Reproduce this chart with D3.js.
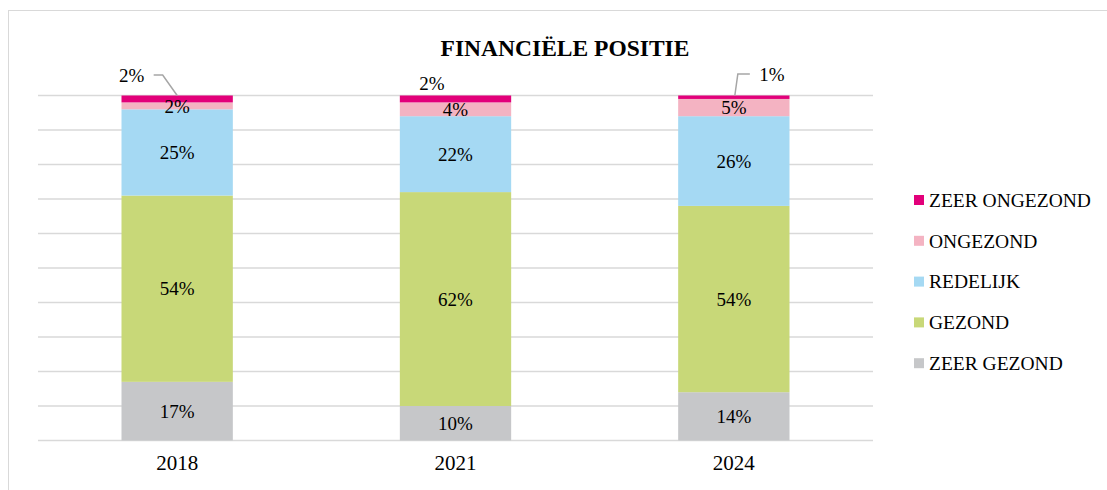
<!DOCTYPE html>
<html>
<head>
<meta charset="utf-8">
<script src="https://cdnjs.cloudflare.com/ajax/libs/d3/7.8.5/d3.min.js"></script>
<style>
  body { margin: 0; background: #fff; }
  svg { display: block; font-family: "Liberation Serif", "DejaVu Serif", serif; }
</style>
</head>
<body>
<svg id="chart" width="1107" height="490"></svg>
<script>
// data
var jaren = ['2018', '2021', '2024'];
var reeksen = ['ZEER GEZOND', 'GEZOND', 'REDELIJK', 'ONGEZOND', 'ZEER ONGEZOND'];
var zeerGezond = [17, 10, 14];
var gezond = [54, 62, 54];
var redelijk = [25, 22, 26];
var ongezond = [2, 4, 5];
var zeerOngezond = [2, 2, 1];
var yTicks = [0, 10, 20, 30, 40, 50, 60, 70, 80, 90, 100];
var kleuren = ['#c6c7c9', '#c8d878', '#a5d9f3', '#f4b3c2', '#e2007a'];

var waarden = [zeerGezond, gezond, redelijk, ongezond, zeerOngezond];

var rows = jaren.map(function(j, i) {
  var r = { jaar: j };
  reeksen.forEach(function(s, k) { r[s] = waarden[k][i]; });
  return r;
});

var svg = d3.select('#chart');

// chart border
svg.append('rect')
  .attr('x', 8.5).attr('y', 10.5)
  .attr('width', 1110).attr('height', 490)
  .attr('fill', 'none')
  .attr('stroke', '#d9d9d9');

var plotL = 38, plotR = 873, plotT = 95.5, plotB = 440.5;

var x = d3.scaleBand()
  .domain(jaren)
  .range([plotL, plotR])
  .paddingInner(0.6)
  .paddingOuter(0.3);

var y = d3.scaleLinear()
  .domain([0, 100])
  .range([plotB, plotT]);

var color = d3.scaleOrdinal().domain(reeksen).range(kleuren);

// gridlines
svg.append('g')
  .selectAll('line')
  .data(yTicks)
  .enter().append('line')
    .attr('x1', plotL).attr('x2', plotR)
    .attr('y1', function(d) { return y(d); })
    .attr('y2', function(d) { return y(d); })
    .attr('stroke', '#d9d9d9')
    .attr('stroke-width', 1.3);

var stack = d3.stack().keys(reeksen)(rows);

var series = svg.append('g').selectAll('g')
  .data(stack)
  .enter().append('g')
    .attr('fill', function(d) { return color(d.key); });

series.selectAll('rect')
  .data(function(d) { return d; })
  .enter().append('rect')
    .attr('x', function(d) { return x(d.data.jaar); })
    .attr('y', function(d) { return y(d[1]); })
    .attr('width', x.bandwidth())
    .attr('height', function(d) { return y(d[0]) - y(d[1]); });

// x axis labels
svg.append('g')
  .attr('transform', 'translate(0,' + plotB + ')')
  .call(d3.axisBottom(x).tickSize(0).tickPadding(15))
  .call(function(g) { g.select('.domain').remove(); })
  .selectAll('text')
    .attr('font-family', '"Liberation Serif", serif')
    .attr('font-size', 21)
    .attr('fill', '#000');

// labels inside bars (all but the top series)
stack.slice(0, 4).forEach(function(s) {
  svg.append('g').selectAll('text')
    .data(s)
    .enter().append('text')
      .attr('x', function(d) { return x(d.data.jaar) + x.bandwidth() / 2; })
      .attr('y', function(d) { return (y(d[0]) + y(d[1])) / 2; })
      .attr('dy', '0.35em')
      .attr('text-anchor', 'middle')
      .attr('font-size', 19)
      .attr('fill', '#000')
      .text(function(d) { return (d[1] - d[0]) + '%'; });
});

// zeer ongezond labels above the bars, with leader lines
var top4 = stack[4];
var labelPos = [
  { dx: -45.5, dy: -20.5, lijn: true },
  { dx: -23.5, dy: -12.5, lijn: false },
  { dx: 38, dy: -21.5, lijn: true }
];
top4.forEach(function(d, i) {
  var cx = x(d.data.jaar) + x.bandwidth() / 2;
  var ty = y(d[1]);
  var p = labelPos[i];
  svg.append('text')
    .attr('x', cx + p.dx)
    .attr('y', ty + p.dy)
    .attr('dy', '0.35em')
    .attr('text-anchor', 'middle')
    .attr('font-size', 19)
    .attr('fill', '#000')
    .text((d[1] - d[0]) + '%');
  if (p.lijn) {
    var pts;
    if (p.dx < 0) {
      pts = [[cx + p.dx + 22, ty + p.dy], [cx + p.dx + 31, ty + p.dy], [cx, ty]];
    } else {
      pts = [[cx + p.dx - 22, ty + p.dy], [cx + p.dx - 34, ty + p.dy], [cx + 1, ty]];
    }
    svg.append('path')
      .attr('d', d3.line()(pts))
      .attr('fill', 'none')
      .attr('stroke', '#a6a6a6')
      .attr('stroke-width', 1.5);
  }
});

// title
svg.append('text')
  .attr('x', 565)
  .attr('y', 56)
  .attr('text-anchor', 'middle')
  .attr('font-size', 23.5)
  .attr('font-weight', 'bold')
  .attr('fill', '#000')
  .text('FINANCIËLE POSITIE');

// legend
var legendItems = reeksen.slice().reverse();
var legend = svg.append('g').selectAll('g')
  .data(legendItems)
  .enter().append('g')
    .attr('transform', function(d, i) { return 'translate(914,' + (200 + i * 40.8) + ')'; });

legend.append('rect')
  .attr('x', 0).attr('y', -5)
  .attr('width', 10).attr('height', 10)
  .attr('fill', function(d) { return color(d); });

legend.append('text')
  .attr('x', 15)
  .attr('dy', '0.35em')
  .attr('font-size', 19.5)
  .attr('fill', '#000')
  .text(function(d) { return d; });
</script>
</body>
</html>
